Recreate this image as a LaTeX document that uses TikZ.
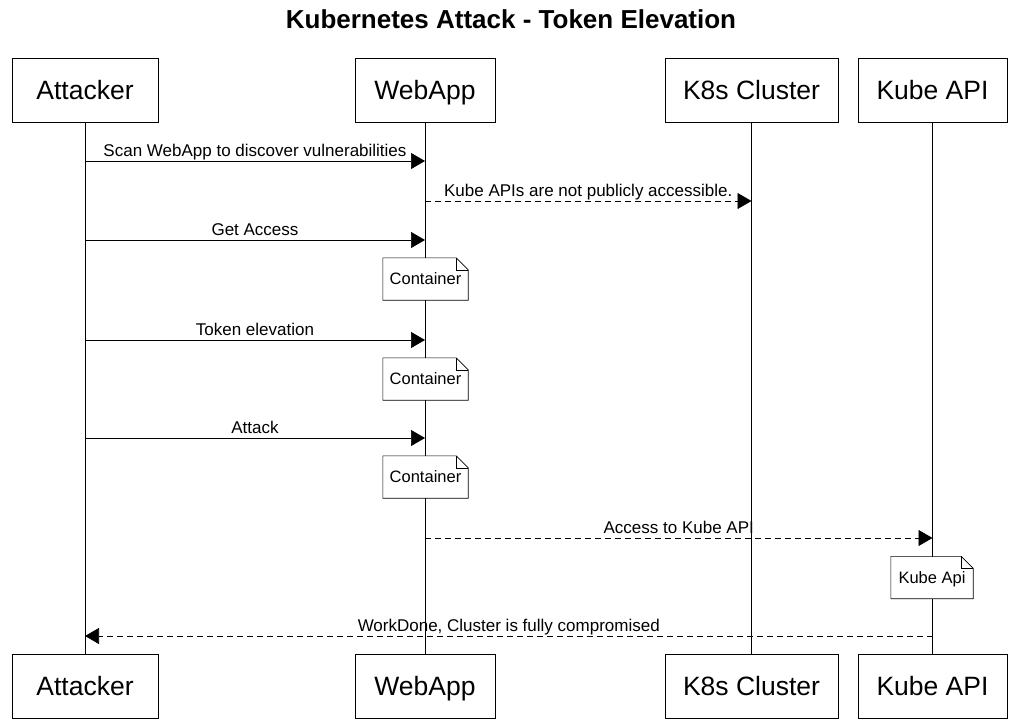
\documentclass[tikz,border=0pt]{standalone}
\usepackage{fontspec}
\setmainfont{Liberation Sans}
\usetikzlibrary{arrows.meta}
% folded corner outline drawn round a note node
\newcommand\foldnote[1]{%
  \draw[line width=.6pt] (#1.south west) -- (#1.north west) -- ([xshift=-12pt]#1.north east)
    -- ([yshift=-12pt]#1.north east) -- (#1.south east) -- cycle;
  \draw[line width=.6pt] ([xshift=-12pt]#1.north east) |- ([yshift=-12pt]#1.north east);}

\begin{document}
\begin{tikzpicture}[x=1pt,y=-1pt,
  actor/.style={rectangle,draw,line width=.8pt,fill=white,inner sep=0pt,minimum height=64pt,text height=18.8pt,text depth=0pt,font=\fontsize{26.5}{30}\selectfont},
  notebox/.style={rectangle,fill=white,inner sep=0pt,minimum height=42pt,text height=11.6pt,text depth=0pt,font=\fontsize{16.5}{19}\selectfont},
  msg/.style={-{Triangle[length=14pt,width=16pt]},line width=.7pt},
  reply/.style={msg,dash pattern=on 6pt off 4pt},
  lbl/.style={midway,anchor=base,yshift=5pt,inner sep=0pt,font=\fontsize{17}{20}\selectfont},
  life/.style={line width=.7pt}
]
\useasboundingbox (0,0) rectangle (1021,726);
\node[font=\bfseries\fontsize{26}{30}\selectfont] (title) at (511,19) {Kubernetes Attack - Token Elevation};

% participants, top and bottom
\node[actor,minimum width=146pt] (att) at (85,90) {Attacker};
\node[actor,minimum width=140pt] (web) at (425,90) {WebApp};
\node[actor,minimum width=173pt] (k8s) at (751.5,90) {K8s Cluster};
\node[actor,minimum width=149pt] (api) at (932.5,90) {Kube API};
\node[actor,minimum width=146pt] (attB) at (85,686.5) {Attacker};
\node[actor,minimum width=140pt] (webB) at (425,686.5) {WebApp};
\node[actor,minimum width=173pt] (k8sB) at (751.5,686.5) {K8s Cluster};
\node[actor,minimum width=149pt] (apiB) at (932.5,686.5) {Kube API};

% lifelines
\draw[life] (att.south) -- (attB.north);
\draw[life] (web.south) -- (webB.north);
\draw[life] (k8s.south) -- (k8sB.north);
\draw[life] (api.south) -- (apiB.north);

% notes
\node[notebox,minimum width=85pt] (cont1) at (425.5,279) {Container};
\node[notebox,minimum width=85pt] (cont2) at (425.5,379) {Container};
\node[notebox,minimum width=85pt] (cont3) at (425.5,477) {Container};
\node[notebox,minimum width=82pt] (kapi) at (932,577.5) {Kube Api};
\foldnote{cont1}
\foldnote{cont2}
\foldnote{cont3}
\foldnote{kapi}

% messages
\draw[msg] (att.south |- 0,161) -- (web.south |- 0,161) node[lbl] {Scan WebApp to discover vulnerabilities};
\draw[reply] (web.south |- 0,201) -- (k8s.south |- 0,201) node[lbl] {Kube APIs are not publicly accessible.};
\draw[msg] (att.south |- 0,240) -- (web.south |- 0,240) node[lbl] {Get Access};
\draw[msg] (att.south |- 0,340) -- (web.south |- 0,340) node[lbl] {Token elevation};
\draw[msg] (att.south |- 0,438) -- (web.south |- 0,438) node[lbl] {Attack};
\draw[reply] (web.south |- 0,538) -- (api.south |- 0,538) node[lbl] {Access to Kube API};
\draw[reply] (api.south |- 0,636) -- (att.south |- 0,636) node[lbl] {WorkDone, Cluster is fully compromised};
\end{tikzpicture}
\end{document}
